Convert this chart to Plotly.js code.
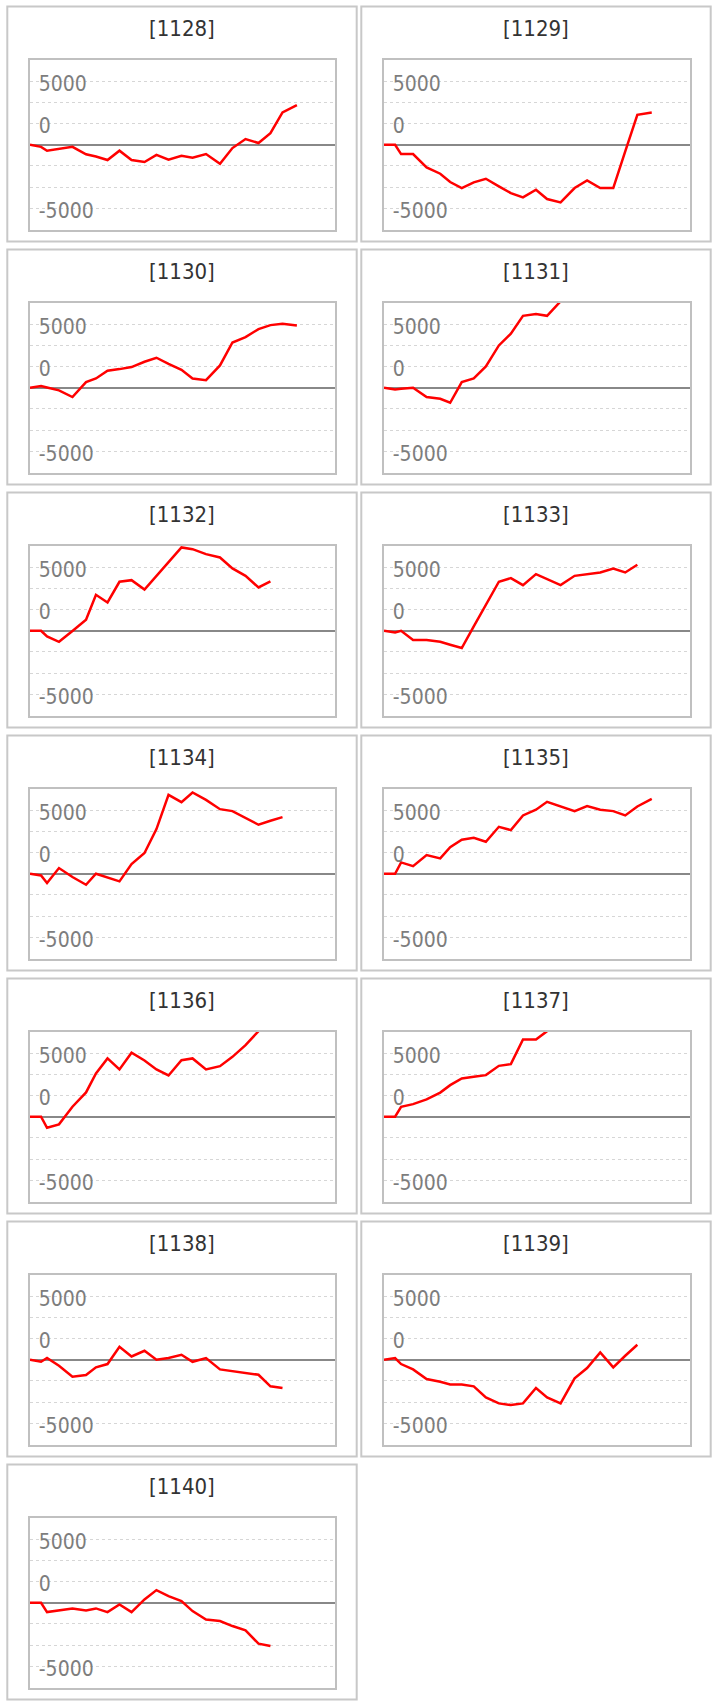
<!DOCTYPE html>
<html>
<head>
<meta charset="utf-8">
<script src="https://cdn.plot.ly/plotly-3.0.1.min.js"></script>
<style>
  html, body { margin: 0; padding: 0; background: #ffffff; }
  #chart { width: 718px; height: 1707px; }
</style>
</head>
<body>
<div id="chart"></div>
<script>
// Shared x positions (time steps along each day)
const xs = [0, 0.87, 1.34, 2.28, 3.34, 4.41, 5.19, 6.1, 7.04, 7.99, 9.01, 9.95, 10.9, 11.92, 12.79, 13.85, 14.95, 15.93, 16.96, 17.98, 18.92, 19.87, 21.0];

// Panel ids
const ids = ['1128', '1129', '1130', '1131', '1132', '1133', '1134', '1135', '1136', '1137', '1138', '1139', '1140'];

// Cumulative values per panel
const s1128 = [0, -250, -700, -450, -250, -1120, -1380, -1800, -700, -1800, -2040, -1200, -1770, -1300, -1530, -1100, -2240, -390, 670, 200, 1375, 3810, 4680];
const s1129 = [0, 0, -1100, -1100, -2670, -3420, -4400, -5110, -4440, -4010, -4910, -5700, -6210, -5300, -6400, -6800, -5110, -4200, -5110, -5110, -790, 3540, 3810];
const s1130 = [0, 200, 40, -310, -1100, 670, 1100, 2000, 2200, 2440, 3070, 3540, 2830, 2120, 1100, 900, 2630, 5340, 5970, 6920, 7390, 7550, 7350];
const s1131 = [0, -200, -130, 0, -1100, -1300, -1770, 670, 1100, 2520, 4990, 6370, 8490, 8690, 8490, 10200];
const s1132 = [0, 0, -670, -1300, -20, 1300, 4240, 3340, 5780, 5970, 4870, 6450, 8060, 9830, 9630, 9040, 8650, 7350, 6480, 5110, 5820];
const s1133 = [0, -200, 0, -1100, -1100, -1300, -1650, -2040, 510, 3050, 5780, 6210, 5380, 6680, 6090, 5380, 6480, 6680, 6880, 7350, 6880, 7780];
const s1134 = [0, -200, -1100, 670, -390, -1300, 0, -430, -900, 1140, 2440, 5270, 9310, 8450, 9590, 8720, 7620, 7390, 6560, 5780, 6250, 6680];
const s1135 = [0, 0, 1340, 900, 2200, 1810, 3140, 4010, 4240, 3770, 5540, 5150, 6880, 7550, 8490, 7940, 7390, 7980, 7550, 7390, 6880, 7940, 8840];
const s1136 = [0, 0, -1300, -900, 1180, 2870, 5110, 6880, 5580, 7550, 6640, 5580, 4870, 6680, 6880, 5580, 5970, 7070, 8450, 10100];
const s1137 = [0, 0, 1180, 1490, 2040, 2850, 3730, 4520, 4720, 4910, 6010, 6210, 9120, 9120, 10100];
const s1138 = [0, -240, 200, -710, -2000, -1810, -900, -510, 1530, 390, 1060, 0, 200, 590, -240, 200, -1140, -1340, -1530, -1770, -3140, -3340];
const s1139 = [0, 200, -510, -1140, -2280, -2590, -2910, -2910, -3140, -4440, -5150, -5340, -5150, -3340, -4440, -5150, -2200, -980, 860, -900, 470, 1770];
const s1140 = [0, 0, -1100, -880, -670, -900, -670, -1100, -200, -1100, 390, 1490, 790, 200, -980, -1970, -2160, -2750, -3260, -4830, -5110];

const series = [s1128, s1129, s1130, s1131, s1132, s1133, s1134, s1135, s1136, s1137, s1138, s1139, s1140];

// Y axis ticks (gridlines every 2500, labels as shown)
const yTickVals = [-7500, -5000, -2500, 2500, 5000, 7500];
const yTickText = ['-5000', '', '', '0', '', '5000'];

const W = 718, H = 1707;
const FONT = 'DejaVu Sans Condensed, Liberation Sans, sans-serif';
const px = v => v / W;
const py = v => 1 - v / H;

const colPlot = [[30, 335], [384, 690]];
const colPanel = [[7.3, 356.7], [361.3, 710.7]];
const PITCH = 243;

const data = [];
const layout = {
  width: W, height: H,
  margin: {l: 0, r: 0, t: 0, b: 0},
  paper_bgcolor: '#ffffff',
  plot_bgcolor: '#ffffff',
  showlegend: false,
  hovermode: false,
  annotations: [],
  shapes: []
};

ids.forEach((id, i) => {
  const r = Math.floor(i / 2), c = i % 2;
  const n = i + 1;
  const xa = 'xaxis' + (n === 1 ? '' : n);
  const ya = 'yaxis' + (n === 1 ? '' : n);
  const top = 60 + PITCH * r, bot = 229.5 + PITCH * r;
  layout[xa] = {
    domain: [px(colPlot[c][0]), px(colPlot[c][1])],
    anchor: 'y' + (n === 1 ? '' : n),
    range: [0, 24],
    showgrid: false, zeroline: false, showticklabels: false, ticks: '',
    showline: true, mirror: true, linecolor: '#c0c0c0', linewidth: 2,
    fixedrange: true
  };
  layout[ya] = {
    domain: [py(bot), py(top)],
    anchor: 'x' + (n === 1 ? '' : n),
    range: [-10000, 10000],
    tickmode: 'array', tickvals: yTickVals, ticktext: yTickText,
    ticklabelposition: 'inside', ticks: '',
    ticklabelstandoff: 10,
    ticklabelshift: 2,
    tickfont: {family: FONT, size: 21, color: '#7d7d7d'},
    showgrid: true, gridcolor: '#d6d6d6', griddash: 'dot', gridwidth: 1,
    zeroline: true, zerolinecolor: '#888888', zerolinewidth: 2,
    showline: true, mirror: true, linecolor: '#c0c0c0', linewidth: 2,
    fixedrange: true
  };
  const s = series[i];
  data.push({
    type: 'scatter', mode: 'lines',
    x: xs.slice(0, s.length), y: s,
    xaxis: 'x' + (n === 1 ? '' : n), yaxis: 'y' + (n === 1 ? '' : n),
    line: {color: '#ff0000', width: 2.5},
    hoverinfo: 'skip'
  });
  // panel border
  const pTop = 6.5 + PITCH * r, pBot = 241.5 + PITCH * r;
  layout.shapes.push({
    type: 'rect', xref: 'paper', yref: 'paper', layer: 'below',
    x0: px(colPanel[c][0]), x1: px(colPanel[c][1]),
    y0: py(pBot), y1: py(pTop),
    line: {color: '#c8c8c8', width: 2}, fillcolor: 'rgba(0,0,0,0)'
  });
  // panel title
  layout.annotations.push({
    text: '[' + id + ']', showarrow: false,
    xref: 'paper', yref: 'paper',
    x: px((colPanel[c][0] + colPanel[c][1]) / 2), y: py(28.3 + PITCH * r),
    xanchor: 'center', yanchor: 'middle',
    font: {family: FONT, size: 22, color: '#333333'}
  });
});

Plotly.newPlot('chart', data, layout, {staticPlot: true, displayModeBar: false});
</script>
</body>
</html>
